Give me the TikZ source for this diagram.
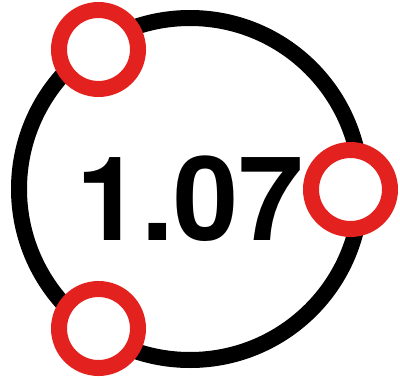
\documentclass[tikz,border=0pt]{standalone}
\usepackage{fontspec}
\setmainfont{TeX Gyre Heros}
\definecolor{portred}{HTML}{E3211F}
\tikzset{
  ring/.style={draw=black, circle, line width=16pt, minimum size=342pt, inner sep=0pt},
  port/.style={draw=portred, circle, fill=white, line width=16pt, minimum size=79pt, inner sep=0pt},
  value/.style={font=\fontsize{117}{117}\selectfont, inner sep=0pt, anchor=base},
}

\begin{document}
\begin{tikzpicture}[x=1pt, y=-1pt]
    \useasboundingbox (0,0) rectangle (400,378);
    \node[ring] (r0) at (190, 189) {};
    \node[value] (v0) at (190, 240) {\bfseries 1.07};
    \node[port] (p0) at (98.5, 49.5) {};
    \node[port] (p1) at (350.5, 189.5) {};
    \node[port] (p2) at (98.5, 328.5) {};
  \end{tikzpicture}
\end{document}
